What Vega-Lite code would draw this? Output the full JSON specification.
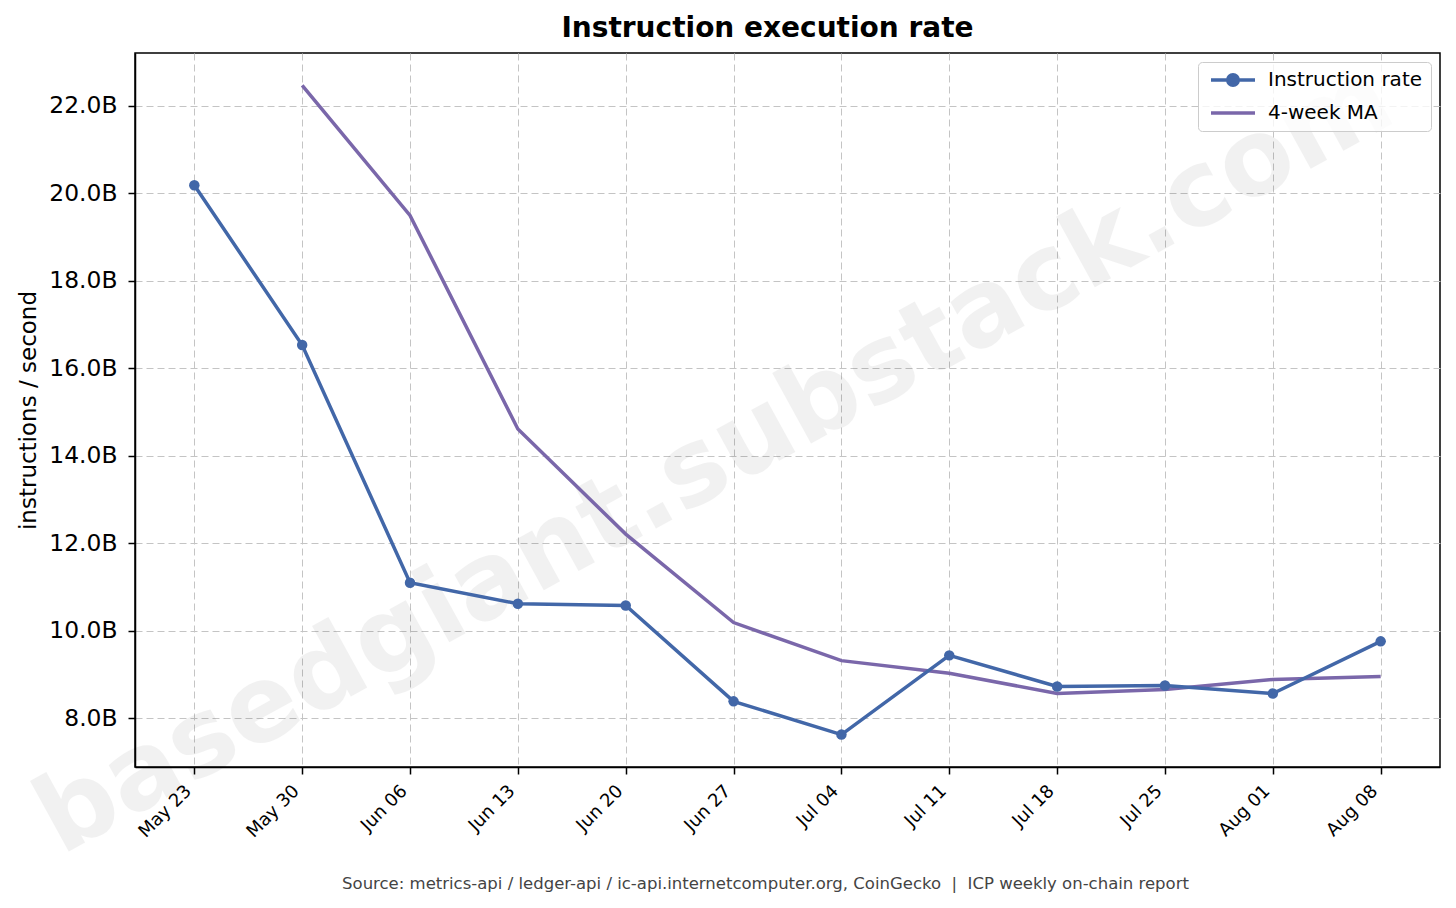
{
  "$schema": "https://vega.github.io/schema/vega-lite/v6.json",
  "width": 1305,
  "height": 714,
  "autosize": {"type": "none"},
  "padding": {"left": 135, "top": 53, "right": 16, "bottom": 141},
  "background": "white",
  "title": {
    "text": "Instruction execution rate",
    "font": "DejaVu Sans",
    "fontSize": 28,
    "fontWeight": "bold",
    "color": "black",
    "anchor": "middle",
    "baseline": "alphabetic",
    "dx": -20,
    "offset": -20
  },
  "datasets": {
    "weekly": [
      {"date": "2025-05-30", "series": "4-week MA", "value": 22.46},
      {"date": "2025-06-06", "series": "4-week MA", "value": 19.49},
      {"date": "2025-06-13", "series": "4-week MA", "value": 14.61},
      {"date": "2025-06-20", "series": "4-week MA", "value": 12.21},
      {"date": "2025-06-27", "series": "4-week MA", "value": 10.19},
      {"date": "2025-07-04", "series": "4-week MA", "value": 9.32},
      {"date": "2025-07-11", "series": "4-week MA", "value": 9.03},
      {"date": "2025-07-18", "series": "4-week MA", "value": 8.57},
      {"date": "2025-07-25", "series": "4-week MA", "value": 8.66},
      {"date": "2025-08-01", "series": "4-week MA", "value": 8.89},
      {"date": "2025-08-08", "series": "4-week MA", "value": 8.96},
      {"date": "2025-05-23", "series": "Instruction rate", "value": 20.18},
      {"date": "2025-05-30", "series": "Instruction rate", "value": 16.53},
      {"date": "2025-06-06", "series": "Instruction rate", "value": 11.1},
      {"date": "2025-06-13", "series": "Instruction rate", "value": 10.62},
      {"date": "2025-06-20", "series": "Instruction rate", "value": 10.58},
      {"date": "2025-06-27", "series": "Instruction rate", "value": 8.39},
      {"date": "2025-07-04", "series": "Instruction rate", "value": 7.63},
      {"date": "2025-07-11", "series": "Instruction rate", "value": 9.44},
      {"date": "2025-07-18", "series": "Instruction rate", "value": 8.73},
      {"date": "2025-07-25", "series": "Instruction rate", "value": 8.75},
      {"date": "2025-08-01", "series": "Instruction rate", "value": 8.57},
      {"date": "2025-08-08", "series": "Instruction rate", "value": 9.76}
    ],
    "mark": [
      {"date": "2025-06-26T19:00:00Z", "value": 13.27, "text": "basedgiant.substack.com"}
    ]
  },
  "encoding": {
    "x": {
      "field": "date",
      "type": "temporal",
      "scale": {
        "type": "utc",
        "domain": [
          {"year": 2025, "month": 5, "date": 19, "hours": 3, "minutes": 36, "utc": true},
          {"year": 2025, "month": 8, "date": 11, "hours": 20, "minutes": 24, "utc": true}
        ]
      },
      "axis": {
        "values": [
          {"year": 2025, "month": 5, "date": 23, "utc": true},
          {"year": 2025, "month": 5, "date": 30, "utc": true},
          {"year": 2025, "month": 6, "date": 6, "utc": true},
          {"year": 2025, "month": 6, "date": 13, "utc": true},
          {"year": 2025, "month": 6, "date": 20, "utc": true},
          {"year": 2025, "month": 6, "date": 27, "utc": true},
          {"year": 2025, "month": 7, "date": 4, "utc": true},
          {"year": 2025, "month": 7, "date": 11, "utc": true},
          {"year": 2025, "month": 7, "date": 18, "utc": true},
          {"year": 2025, "month": 7, "date": 25, "utc": true},
          {"year": 2025, "month": 8, "date": 1, "utc": true},
          {"year": 2025, "month": 8, "date": 8, "utc": true}
        ],
        "format": "%b %d",
        "labelAngle": -45,
        "labelAlign": "right",
        "labelBaseline": "middle",
        "labelFontSize": 18,
        "labelPadding": 14,
        "labelOffset": -6,
        "labelOverlap": false,
        "title": "Source: metrics-api / ledger-api / ic-api.internetcomputer.org, CoinGecko\u00a0 |\u00a0 ICP weekly on-chain report",
        "titleFontSize": 16.5,
        "titleFontWeight": "normal",
        "titleColor": "#444444",
        "titleX": 630,
        "titleY": 121,
        "titleAlign": "center",
        "titleBaseline": "alphabetic"
      }
    },
    "y": {
      "field": "value",
      "type": "quantitative",
      "scale": {"domain": [6.89, 23.2], "zero": false, "nice": false},
      "axis": {
        "values": [8, 10, 12, 14, 16, 18, 20, 22],
        "format": ".1f",
        "labelExpr": "datum.label + 'B'",
        "labelFontSize": 23.4,
        "labelPadding": 11,
        "title": "instructions / second",
        "titleFontSize": 23,
        "titleFontWeight": "normal",
        "titleX": -107,
        "titleY": 357,
        "titleAngle": -90,
        "titleAlign": "center",
        "titleBaseline": "middle"
      }
    }
  },
  "layer": [
    {
      "data": {"name": "mark"},
      "mark": {
        "type": "text",
        "angle": -28.8,
        "font": "DejaVu Sans",
        "fontSize": 106,
        "fontWeight": "bold",
        "color": "black",
        "opacity": 0.05,
        "align": "center",
        "baseline": "alphabetic"
      },
      "encoding": {"text": {"field": "text"}}
    },
    {
      "data": {"name": "weekly"},
      "mark": {"type": "line", "strokeWidth": 3.5},
      "encoding": {
        "color": {
          "field": "series",
          "type": "nominal",
          "scale": {"domain": ["Instruction rate", "4-week MA"], "range": ["#4267a8", "#7a67aa"]},
          "legend": {
            "orient": "top-right",
            "offset": 9,
            "title": null,
            "fillColor": "rgba(255,255,255,0.8)",
            "strokeColor": "#cccccc",
            "cornerRadius": 4,
            "padding": 8,
            "labelFont": "DejaVu Sans",
            "labelFontSize": 20,
            "labelColor": "black",
            "labelOffset": 42,
            "symbolSize": 100,
            "symbolStrokeWidth": 3.5,
            "rowPadding": 10,
            "encode": {
              "symbols": {
                "update": {
                  "shape": {"signal": "datum.value === 'Instruction rate' ? 'M-1,0H7.8M4.45,0A1.05,1.05,0,1,1,2.35,0A1.05,1.05,0,1,1,4.45,0' : 'M-1,0H7.8'"},
                  "fill": {"scale": "color", "field": "value"}
                }
              }
            }
          }
        }
      }
    },
    {
      "data": {"name": "weekly"},
      "transform": [{"filter": "datum.series === 'Instruction rate'"}],
      "mark": {"type": "point", "filled": true, "size": 110, "opacity": 1, "color": "#4267a8"}
    }
  ],
  "config": {
    "font": "DejaVu Sans",
    "view": {"stroke": "black", "strokeWidth": 1.5},
    "axis": {
      "domainColor": "black",
      "domainWidth": 1.5,
      "tickColor": "black",
      "tickWidth": 1.5,
      "tickSize": 7,
      "labelColor": "black",
      "titleColor": "black",
      "labelFont": "DejaVu Sans",
      "titleFont": "DejaVu Sans",
      "gridColor": "#c4c4c4",
      "gridDash": [7, 4],
      "gridWidth": 1
    }
  }
}
